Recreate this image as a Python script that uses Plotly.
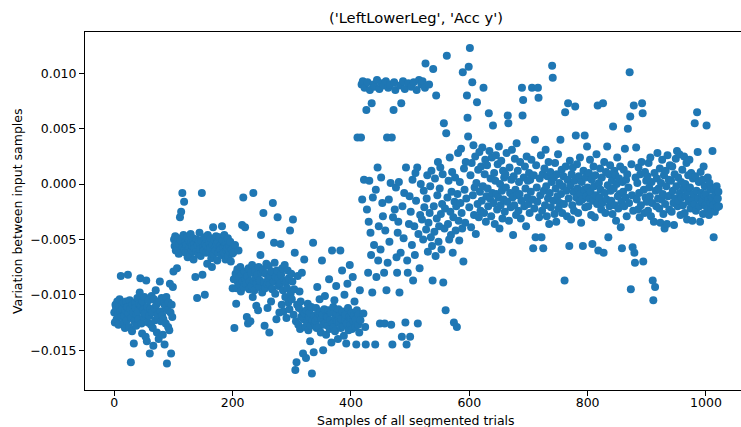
import plotly.graph_objects as go

# Variation between consecutive input samples, stored in units of 1e-3,
# split into consecutive stretches of the segmented-trial sequence.
variation_0_199 = [
    -11.6, -12.5, -10.9, -11.2, -12.2, -10.6, -11.8, -12.7, -11.0, -10.4, -11.5, -8.3, -12.0, -10.8, -11.3, -12.6, -10.7, -11.9, -13.0, -11.4,
    -10.6, -12.3, -11.1, -8.2, -11.7, -12.9, -10.5, -11.3, -16.1, -12.1, -13.3, -10.9, -11.6, -14.4, -12.4, -10.7, -11.2, -12.8, -11.8, -10.3,
    -11.5, -12.2, -10.8, -9.8, -8.5, -11.0, -12.6, -13.5, -10.6, -11.4, -12.0, -10.2, -11.7, -13.8, -8.7, -14.2, -11.1, -12.5, -10.5, -11.9,
    -15.3, -11.3, -12.7, -10.1, -11.6, -13.0, -14.6, -10.4, -11.2, -12.3, -9.6, -10.9, -13.4, -11.8, -12.1, -14.0, -10.6, -8.8, -11.5, -12.4,
    -10.3, -11.9, -13.6, -12.2, -10.8, -14.5, -11.0, -12.6, -10.2, -16.2, -11.4, -12.9, -10.7, -13.2, -9.0, -11.6, -15.3, -10.9, -12.0, -9.3,
    -7.9, -5.0, -5.6, -4.7, -6.0, -5.3, -7.6, -5.8, -4.9, -6.3, -5.4, -3.0, -5.1, -2.5, -6.1, -0.8, -5.7, -4.6, -1.6, -5.9,
    -5.2, -6.2, -5.5, -4.8, -6.6, -5.9, -5.1, -5.7, -6.4, -4.5, -5.3, -6.0, -5.6, -4.9, -6.8, -5.4, -5.8, -8.4, -6.1, -5.0,
    -10.3, -5.5, -6.3, -5.2, -4.4, -5.9, -6.5, -5.1, -0.8, -8.2, -5.7, -6.0, -4.8, -10.0, -5.4, -6.2, -5.6, -7.2, -4.6, -5.9,
    -5.3, -6.1, -5.8, -4.9, -6.7, -7.5, -5.5, -3.9, -6.3, -5.0, -5.7, -6.0, -4.7, -5.4, -6.9, -5.2, -6.2, -5.8, -4.8, -5.6,
    -5.9, -6.4, -3.8, -5.1, -5.7, -6.2, -4.6, -5.5, -6.8, -5.3, -6.0, -5.8, -4.9, -6.5, -5.6, -6.1, -5.2, -7.0, -5.9, -6.3,
]

variation_200_419 = [
    -9.4, -6.2, -8.6, -13.0, -5.5, -8.1, -10.8, -9.4, -7.7, -8.9, -6.0, -8.4, -9.1, -7.5, -9.7, -8.2, -3.7, -8.8, -1.2, -9.3,
    -7.9, -3.9, -8.6, -9.0, -12.0, -8.3, -12.6, -7.6, -9.5, -8.8, -12.4, -8.0, -9.2, -7.3, -10.2, -0.8, -8.7, -9.6, -7.8, -8.5,
    -11.0, -9.0, -8.2, -11.4, -7.5, -9.3, -8.7, -6.4, -4.6, -8.0, -9.8, -7.7, -2.6, -8.9, -12.8, -9.4, -8.1, -7.2, -9.0, -11.2,
    -8.6, -7.4, -13.4, -9.1, -8.3, -10.6, -7.9, -9.5, -1.7, -8.8, -5.3, -7.1, -9.9, -8.4, -12.2, -7.8, -3.0, -9.2, -8.5, -11.6,
    -9.0, -5.4, -8.2, -10.9, -7.6, -9.6, -11.5, -8.7, -7.3, -10.2, -8.9, -12.1, -9.4, -7.8, -10.7, -8.5, -11.3, -4.2, -9.9, -8.1,
    -10.4, -8.8, -3.2, -11.8, -9.5, -6.2, -16.8, -12.4, -16.1, -10.9, -8.3, -12.7, -11.2, -9.7, -13.1, -10.6, -12.0, -8.0, -11.5, -15.3,
    -12.2, -6.8, -11.7, -12.9, -15.7, -11.4, -12.5, -10.8, -13.2, -12.0, -11.6, -14.2, -12.8, -11.1, -17.1, -12.3, -5.3, -15.2, -11.9, -12.6,
    -12.4, -11.2, -13.0, -9.3, -12.1, -11.7, -12.9, -10.4, -11.5, -13.4, -12.2, -6.9, -11.8, -15.0, -12.7, -11.3, -10.1, -12.5, -13.6, -11.9,
    -12.0, -12.8, -11.4, -8.6, -13.1, -12.3, -11.6, -14.3, -6.0, -12.6, -11.1, -12.9, -10.5, -13.3, -12.1, -9.2, -11.7, -12.4, -14.0, -11.3,
    -12.5, -11.9, -6.0, -13.0, -12.2, -7.8, -11.5, -12.8, -13.7, -10.0, -12.3, -11.8, -14.4, -12.6, -9.0, -11.2, -13.2, -12.0, -7.3, -12.7,
    -12.1, -11.6, -13.1, -8.4, -12.4, -11.9, -10.6, -12.9, -12.2, -14.5, -11.4, 4.2, -12.7, -11.8, -13.4, -9.6, -12.3, 4.2, 9.0, -1.4,
]

variation_420_619 = [
    9.3, -11.7, 0.4, 8.7, -12.9, -14.5, 6.7, -2.3, 9.2, -8.0, -3.4, 0.3, 8.5, -4.4, -6.4, 7.3, -9.8, -1.2, 9.0, -5.5,
    8.8, -14.5, -0.5, -8.4, 9.4, 1.5, -6.9, -3.8, 8.6, -12.6, -5.9, 0.6, 9.1, -1.7, -2.9, 8.9, -8.0, -12.6, -4.2, 9.3,
    -9.6, 4.2, -7.1, 8.7, -1.4, -5.2, 9.0, 0.1, -12.7, 4.2, -14.5, -3.0, 6.7, 9.2, -2.3, 8.5, -0.3, -6.6, -8.0, -4.4,
    -3.4, 0.2, -9.8, 8.9, -6.2, 7.3, -13.8, -2.0, 9.3, -4.9, -0.8, 8.6, -12.5, 1.5, -14.5, -6.9, -8.0, 9.1, -3.6, -1.1,
    -13.8, -2.5, 8.8, -5.5, 0.4, -8.7, 9.2, -3.8, -6.4, 1.0, -1.5, 8.5, 1.5, -12.6, -4.5, 9.4, -7.6, -2.8, 0.0, 9.0,
    -3.2, 9.3, -5.0, -0.6, -2.1, 8.7, 10.9, -4.1, -1.3, 0.8, -6.1, -3.5, 9.0, -2.6, -0.2, -4.8, 1.2, -5.6, -8.7, 10.4,
    -2.0, -4.3, 0.5, -6.5, 8.0, -3.1, -1.0, 2.0, -5.2, -3.8, -0.4, 1.5, -2.7, -5.9, -1.8, 0.9, -8.9, 5.5, -4.0, -2.2,
    -11.4, 4.6, 11.6, -1.2, -3.6, 0.3, -5.0, 2.4, -2.5, -4.6, -0.7, 1.1, -6.2, -3.0, -12.5, -1.6, 0.6, -4.2, -2.0, -12.9,
    -0.9, 2.8, -3.3, -5.1, 0.2, -1.7, 3.2, -2.6, -4.0, 10.1, -7.0, 1.4, -0.5, -3.5, 2.0, -1.3, 8.0, 6.0, 4.3, 10.6,
    -2.1, 12.3, 0.8, -3.9, 1.9, 9.2, -1.0, 3.5, -2.8, -0.3, 2.5, -4.5, 0.1, 7.4, -1.8, 1.3, -3.0, 2.9, -0.7, -2.4,
]

variation_620_819 = [
    1.6, -1.5, 3.3, -0.2, 8.7, -2.6, 0.9, 2.2, -3.4, -1.1, 1.7, -0.4, -2.0, 6.4, 3.0, -1.3, 0.5, -2.9, 2.4, -0.8,
    5.3, -1.7, 1.0, -3.6, 0.3, 2.6, -0.9, -2.3, 1.8, -1.2, 3.4, -4.0, 0.0, -1.9, 2.1, -0.6, -3.1, 1.2, -1.4, 0.6,
    -2.5, 0.9, -0.3, 2.8, -1.6, 6.2, 5.5, -3.3, 1.5, -0.8, -2.1, 0.4, 3.1, -1.2, -4.6, 0.7, -1.9, 2.3, -0.5, -2.8,
    3.7, -1.0, 1.2, -2.4, 0.2, -0.9, 2.0, -3.1, -1.5, 8.7, 6.2, 7.6, 0.6, -2.0, 1.6, -0.4, -3.8, 2.5, -1.2, 0.3,
    -1.8, 1.0, -2.6, 0.4, -0.7, 2.2, 8.7, -1.4, -5.8, 0.8, -2.2, 4.0, -4.8, 1.7, -0.3, -1.6, 8.7, 7.8, -3.0, 0.5,
    -1.0, 2.6, -4.8, -2.4, 0.9, -5.8, -0.6, 1.4, -1.9, 3.1, -0.2, -2.9, 0.7, -1.3, 2.0, -3.6, -0.8, 1.1, -2.1, 0.2,
    10.7, 9.6, -1.5, 0.6, -2.7, 1.9, -0.4, -3.4, 0.9, -1.1, 2.7, -2.2, 0.1, -1.7, 4.0, -0.9, 1.3, -2.6, -0.2, 0.7,
    -1.8, -8.7, 6.5, 1.6, -0.6, -2.9, 0.4, 7.3, -1.3, -5.6, 2.1, -0.1, -3.2, 0.9, -1.9, 1.5, -0.7, -2.4, 0.3, 7.0,
    4.4, -1.2, 1.8, -0.4, -2.6, 0.7, -1.6, 2.4, -0.9, -3.5, 0.2, -1.4, -5.6, 1.2, -0.5, 4.4, -2.1, 0.6, -1.1, 3.4,
    -0.3, -2.0, 1.0, -1.3, 2.2, -0.7, -2.8, 0.4, -5.4, -1.5, 1.6, -0.2, -3.0, 0.8, -1.0, 2.7, -1.8, 7.1, -6.0, 0.1,
]

variation_820_1022 = [
    -1.2, 1.4, -0.5, -2.3, 0.6, -1.7, 7.3, -6.2, 2.0, -0.8, -2.6, 1.1, -1.4, 3.4, -0.1, -4.8, 0.9, -2.0, 1.7, -0.6,
    -1.5, 0.3, -2.7, 5.2, -0.4, 1.2, -1.9, 0.8, -3.3, 0.0, 2.4, -1.1, -2.2, 0.5, -0.9, 1.6, -3.9, -1.6, -5.8, 0.2,
    -0.7, 1.3, -2.0, 3.2, -1.2, 0.4, -2.9, 0.9, 5.0, -0.3, -1.7, 10.1, 6.1, -9.5, 1.8, -1.0, -5.7, -2.4, 7.1, -6.2,
    -7.1, 0.6, 3.3, -1.4, 0.1, -2.3, 1.5, -0.8, -3.0, 0.9, -1.9, 2.0, 7.3, 6.4, -7.0, -0.5, -2.6, 1.1, -1.2, 0.3,
    -1.6, 0.7, -2.4, 1.9, -0.3, -1.1, 2.4, -2.9, 0.2, -1.7, -8.7, -10.5, -3.4, 1.0, -9.3, -0.6, -2.0, 0.5, 2.8, -1.3,
    -0.4, -2.2, 1.4, -3.5, 0.1, -1.4, 2.2, -0.9, -2.7, 0.8, -4.0, -1.8, 1.2, -0.2, -3.6, 2.6, -1.1, 0.4, -2.3, 1.7,
    -1.0, 0.3, -2.5, 1.6, -0.6, -1.7, -3.7, 0.9, -1.3, 2.3, -0.2, 3.0, -2.0, 0.6, -1.5, 2.7, -0.8, -2.8, 0.2, -1.2,
    1.3, -1.9, -0.4, 2.5, -2.6, 0.0, -1.1, 1.9, -3.2, -0.7, 0.8, -1.6, 2.2, -0.3, -2.2, 1.0, -1.4, -3.3, 0.5, -0.9,
    -1.8, 5.5, 0.7, -2.4, -0.6, 6.5, 2.9, -1.3, 0.2, -2.0, -3.4, 1.1, -0.8, -1.6, 0.4, -2.7, 1.6, -1.0, -0.2, -1.9,
    -0.9, 5.3, -2.2, 0.6, -1.4, -2.8, 0.1, -1.7, -0.5, -2.3, -1.2, 3.0, -1.9, -4.8, -0.4, -2.5, -1.0, -1.6, -0.2, -2.1,
    -1.3, -0.7, -2.0,
]

variation_milli = (variation_0_199 + variation_200_419 + variation_420_619
                   + variation_620_819 + variation_820_1022)
variation = [v / 1000.0 for v in variation_milli]
samples = list(range(len(variation)))

x_ticks = [0, 200, 400, 600, 800, 1000]
y_ticks = [-0.015, -0.010, -0.005, 0.0, 0.005, 0.010]

title_text = "('LeftLowerLeg', 'Acc y')"
x_title = "Samples of all segmented trials"
y_title = "Variation between input samples"

FONT = "DejaVu Sans"

fig = go.Figure(
    go.Scatter(
        x=samples,
        y=variation,
        mode="markers",
        marker=dict(color="#1f77b4", size=8, line=dict(width=0)),
        hoverinfo="x+y",
    )
)

fig.update_layout(
    width=741,
    height=427,
    margin=dict(l=85, r=0, t=32, b=37),
    paper_bgcolor="white",
    plot_bgcolor="white",
    showlegend=False,
    font=dict(family=FONT, size=12.5, color="black"),
    title=dict(
        text=title_text,
        x=(416 - 85) / 656,
        xref="paper",
        xanchor="center",
        y=1 - 18 / 427,
        yref="container",
        yanchor="middle",
        font=dict(family=FONT, size=14.7, color="black"),
    ),
    annotations=[
        dict(
            text=x_title, xref="paper", yref="paper",
            x=(416 - 85) / 656, y=(390 - 420) / 358,
            xanchor="center", yanchor="middle", showarrow=False,
            font=dict(family=FONT, size=12.5, color="black"),
        ),
        dict(
            text=y_title, xref="paper", yref="paper",
            x=(17 - 85) / 656, y=0.5, textangle=-90,
            xanchor="center", yanchor="middle", showarrow=False,
            font=dict(family=FONT, size=12.5, color="black"),
        ),
    ],
)

fig.update_xaxes(
    range=[-49.5, 1059.2],
    tickvals=x_ticks,
    ticks="outside",
    ticklen=5,
    tickwidth=1,
    tickcolor="black",
    ticklabelstandoff=-4,
    showline=True,
    linecolor="black",
    linewidth=1,
    mirror=True,
    showgrid=False,
    zeroline=False,
)

fig.update_yaxes(
    range=[-0.0186, 0.01374],
    tickvals=y_ticks,
    tickformat=".3f",
    ticks="outside",
    ticklen=5,
    tickwidth=1,
    tickcolor="black",
    showline=True,
    linecolor="black",
    linewidth=1,
    mirror=False,
    showgrid=False,
    zeroline=False,
)

fig.write_html("out.html")
